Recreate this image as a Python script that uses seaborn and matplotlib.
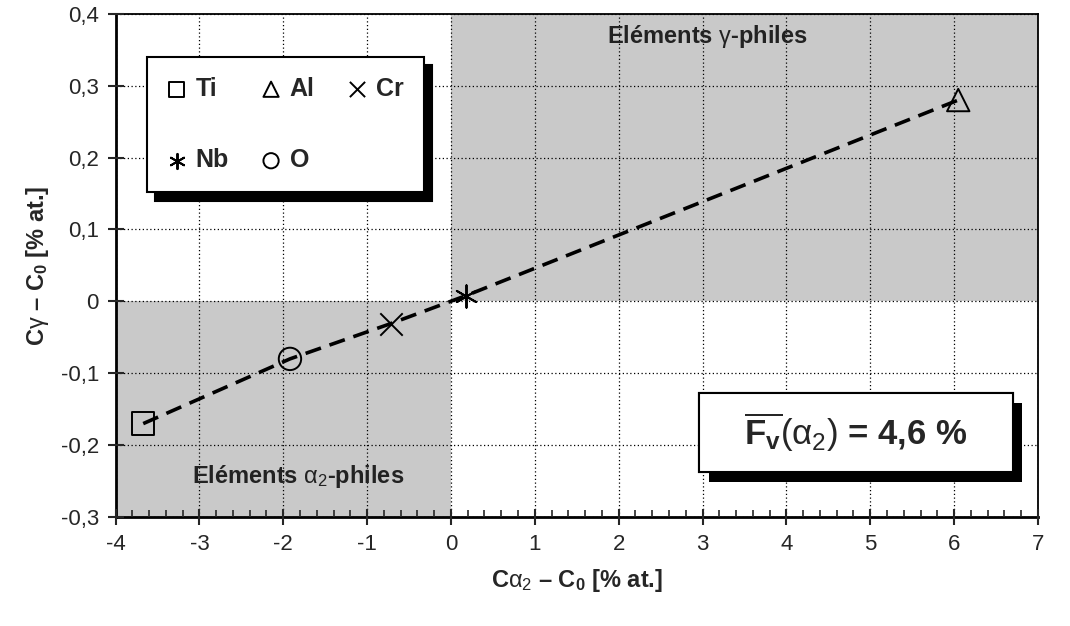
import numpy as np
import pandas as pd
import matplotlib
matplotlib.use("Agg")
import matplotlib.pyplot as plt
import matplotlib.patheffects as pe
from matplotlib.patches import Rectangle
from matplotlib.ticker import MultipleLocator
import seaborn as sns

# donnees
elements = ["Ti", "O", "Cr", "Nb", "Al"]
c_alpha2 = [-3.67, -1.92, -0.72, 0.18, 6.05]
c_gamma = [-0.17, -0.08, -0.031, 0.008, 0.28]
markers = {"Ti": "s", "O": "o", "Cr": "x", "Nb": (6, 2, 0), "Al": "^"}
legend_order = ["Ti", "Nb", "Al", "O", "Cr"]

x_ticks = [-4, -3, -2, -1, 0, 1, 2, 3, 4, 5, 6, 7]
y_ticks = [-0.3, -0.2, -0.1, 0, 0.1, 0.2, 0.3, 0.4]
y_labels = ["-0,3", "-0,2", "-0,1", "0", "0,1", "0,2", "0,3", "0,4"]

# zones grisees (x0, x1, y0, y1)
zone_gamma = [0, 7, 0, 0.4]
zone_alpha = [-4, 0, -0.3, 0]

sns.set_style("white")
plt.rcParams["font.family"] = ["Liberation Sans", "DejaVu Sans"]
plt.rcParams["mathtext.fontset"] = "custom"
plt.rcParams["mathtext.rm"] = "Liberation Sans"
plt.rcParams["mathtext.it"] = "Liberation Sans"
plt.rcParams["mathtext.bf"] = "Liberation Sans:bold"

df = pd.DataFrame({"element": elements, "x": c_alpha2, "y": c_gamma})

fig, ax = plt.subplots(figsize=(10.7, 6.26), dpi=100)
fig.subplots_adjust(left=0.108, right=0.970, top=0.978, bottom=0.174)

gris = "#c9c9c9"
for z in (zone_gamma, zone_alpha):
    ax.fill_between([z[0], z[1]], z[2], z[3], color=gris, lw=0, zorder=0)

sns.lineplot(data=df.sort_values("x"), x="x", y="y", sort=False, color="black",
             linestyle=(0, (4.5, 2.5)), lw=2.6, ax=ax, zorder=2)

for el in elements:
    sub = df[df["element"] == el]
    ax.scatter(sub["x"], sub["y"], marker=markers[el], s=260,
               facecolors="none" if el not in ("Cr", "Nb") else "black",
               edgecolors="black", linewidths=1.4, zorder=3, label=el)

ax.set_xlim(x_ticks[0], x_ticks[-1])
ax.set_ylim(y_ticks[0], y_ticks[-1])
ax.set_xticks(x_ticks)
ax.set_xticklabels([str(v) for v in x_ticks], fontsize=16)
ax.set_yticks(y_ticks)
ax.set_yticklabels(y_labels, fontsize=16)
ax.xaxis.set_minor_locator(MultipleLocator(0.2))
ax.tick_params(axis="x", which="major", direction="inout", length=12, width=1.5, bottom=True, pad=6)
ax.tick_params(axis="x", which="minor", direction="in", length=5, width=1.2, bottom=True)
ax.tick_params(axis="y", which="major", direction="inout", length=12, width=1.5, left=True, pad=6)
ax.grid(True, which="major", color="black", linestyle=(0, (1, 2)), lw=0.9)
ax.set_axisbelow(False)
for s in ax.spines.values():
    s.set_color("black")
    s.set_linewidth(1.3)
ax.spines["left"].set_linewidth(2)
ax.spines["bottom"].set_linewidth(2)

ax.set_xlabel(r"C$\alpha_2$ – C$_\mathbf{0}$ [% at.]", fontsize=17, fontweight="bold", labelpad=9)
ax.set_ylabel(r"C$\gamma$ – C$_\mathbf{0}$ [% at.]", fontsize=17, fontweight="bold", labelpad=7)

ax.text(3.06, 0.368, r"Eléments $\gamma$-philes", fontsize=17, fontweight="bold",
        ha="center", va="center", color="#222222")
ax.text(-1.82, -0.243, r"Eléments $\alpha_2$-philes", fontsize=17, fontweight="bold",
        ha="center", va="center", color="#222222")

# encadre Fv avec ombre
box = Rectangle((0.633, 0.0895), 0.3395, 0.157, transform=ax.transAxes, fc="white",
                ec="black", lw=1.5, zorder=5)
box.set_path_effects([pe.withSimplePatchShadow(offset=(7, -7), shadow_rgbFace="black", alpha=1), pe.Normal()])
ax.add_patch(box)
ax.text(0.8025, 0.168, r"$\mathbf{\overline{F_v}}(\alpha_2)$ = 4,6 %", fontsize=25,
        fontweight="bold", ha="center", va="center", zorder=6, transform=ax.transAxes)

handles, labels = ax.get_legend_handles_labels()
hmap = dict(zip(labels, handles))
leg = ax.legend([hmap[k] for k in legend_order], legend_order, ncol=3,
                loc="upper left", bbox_to_anchor=(0.0336, 0.9145), borderaxespad=0,
                frameon=True, fancybox=False,
                shadow={"color": "black", "alpha": 1, "ox": 6, "oy": -6},
                edgecolor="black", prop={"weight": "bold", "size": 18},
                handletextpad=0.35, columnspacing=1.3, labelspacing=1.9,
                borderpad=0.8, handlelength=0.8, markerscale=0.68)
leg.get_frame().set_linewidth(1.5)
leg.set_zorder(7)

plt.savefig("out.png", dpi=100)
